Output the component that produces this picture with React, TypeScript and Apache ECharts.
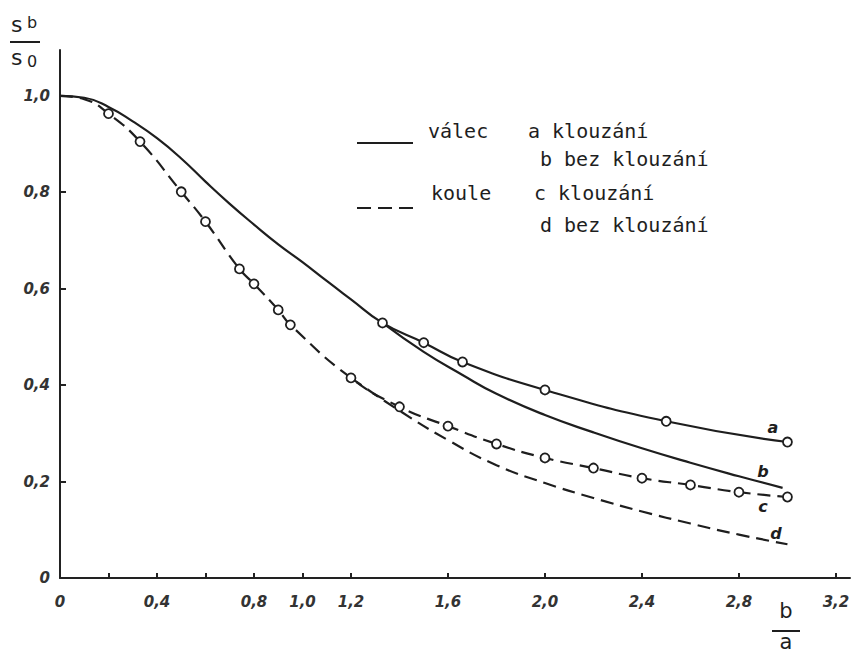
import React, { useEffect, useRef } from "react";
import * as echarts from "echarts";

// Axis ticks / labels
const xTickValues = [0.2, 0.4, 0.6, 0.8, 1.0, 1.2, 1.6, 2.0, 2.4, 2.8, 3.2];
const xLabelValues = [0, 0.4, 0.8, 1.0, 1.2, 1.6, 2.0, 2.4, 2.8, 3.2];
const yTickValues = [0.2, 0.4, 0.6, 0.8, 1.0];
const yLabelValues = [0, 0.2, 0.4, 0.6, 0.8, 1.0];

// válec (cylinder) – common part of curves a and b
const valecX = [0, 0.1, 0.2, 0.3, 0.4, 0.5, 0.6, 0.7, 0.8, 0.9, 1.0, 1.1, 1.2, 1.33];
const valecY = [1.0, 0.996, 0.977, 0.947, 0.912, 0.87, 0.822, 0.776, 0.733, 0.692, 0.655, 0.616, 0.578, 0.529];
// a – válec, klouzání (measured points)
const aX = [1.33, 1.5, 1.66, 2.0, 2.5, 3.0];
const aY = [0.529, 0.488, 0.448, 0.39, 0.325, 0.282];
// b – válec, bez klouzání
const bX = [1.33, 1.5, 1.66, 1.8, 2.0, 2.2, 2.4, 2.6, 2.8, 2.98];
const bY = [0.529, 0.469, 0.421, 0.382, 0.338, 0.302, 0.269, 0.239, 0.211, 0.187];
// koule (sphere) – start common to c and d
const kouleX = [0, 0.1];
const kouleY = [1.0, 0.993];
// c – koule, klouzání (measured points)
const cX = [0.2, 0.33, 0.5, 0.6, 0.74, 0.8, 0.9, 0.95, 1.2, 1.4, 1.6, 1.8, 2.0, 2.2, 2.4, 2.6, 2.8, 3.0];
const cY = [0.963, 0.905, 0.801, 0.739, 0.641, 0.61, 0.556, 0.525, 0.415, 0.355, 0.315, 0.278, 0.249, 0.228, 0.207, 0.193, 0.178, 0.168];
// d – koule, bez klouzání
const dX = [1.2, 1.4, 1.6, 1.8, 2.0, 2.2, 2.4, 2.6, 2.8, 3.0];
const dY = [0.415, 0.347, 0.286, 0.234, 0.197, 0.166, 0.138, 0.113, 0.09, 0.07];

const zip = (xs: number[], ys: number[]) => xs.map((x, i) => [x, ys[i]]);
const fmt = (v: number) => (v === 0 ? "0" : v.toFixed(1).replace(".", ","));

const INK = "#1e1e1e";
const MONO = "'DejaVu Sans Mono', monospace";
const SANS = "'DejaVu Sans', sans-serif";

export default function App() {
  const ref = useRef<HTMLDivElement>(null);

  useEffect(() => {
    document.body.style.margin = "0";
    if (!ref.current) return;
    const chart = echarts.init(ref.current, null, { renderer: "svg" });

    const line = { color: INK, width: 2.2 };
    const dashed = { color: INK, width: 2.2, type: [13, 7] as number[] };
    const marker = { color: "#ffffff", borderColor: INK, borderWidth: 1.8, opacity: 1 };

    const axisLabelStyle = {
      fontStyle: "italic" as const,
      fontWeight: "bold" as const,
      fontSize: 15,
      fontFamily: SANS,
      color: "#333",
      formatter: (v: number) => fmt(v),
    };

    const txt = (text: string, x: number, y: number, size: number, family: string, extra: any = {}) => ({
      type: "text",
      x,
      y,
      style: {
        text,
        fill: INK,
        fontSize: size,
        fontFamily: family,
        textAlign: "left",
        textVerticalAlign: "middle",
        ...extra,
      },
      z: 100,
    });

    const curve = (name: string, data: number[][], style: any) => ({
      name,
      type: "line",
      data,
      smooth: 0.5,
      symbol: "none",
      lineStyle: style,
      z: 2,
    });

    chart.setOption({
      animation: false,
      backgroundColor: "#ffffff",
      grid: { left: 60, right: 1, top: 50, bottom: 77, containLabel: false, outerBoundsMode: "none" },
      xAxis: {
        type: "value",
        min: 0,
        max: 3.258,
        splitLine: { show: false },
        axisLine: { show: true, onZero: false, lineStyle: { color: "#222", width: 2 } },
        axisTick: { show: true, inside: true, length: 5, customValues: xTickValues, lineStyle: { color: "#222", width: 2 } },
        axisLabel: { ...axisLabelStyle, customValues: xLabelValues, margin: 16 },
      },
      yAxis: {
        type: "value",
        min: 0,
        max: 1.095,
        splitLine: { show: false },
        axisLine: { show: true, onZero: false, lineStyle: { color: "#222", width: 2 } },
        axisTick: { show: true, inside: true, length: 6, customValues: yTickValues, lineStyle: { color: "#222", width: 2 } },
        axisLabel: { ...axisLabelStyle, customValues: yLabelValues, margin: 10 },
      },
      series: [
        curve("a", zip(valecX.concat(aX.slice(1)), valecY.concat(aY.slice(1))), line),
        curve("b", zip(bX, bY), line),
        curve("c", zip(kouleX.concat(cX), kouleY.concat(cY)), dashed),
        curve("d", zip(dX, dY), dashed),
        {
          name: "a body",
          type: "scatter",
          data: zip(aX, aY),
          symbol: "circle",
          symbolSize: 9,
          itemStyle: marker,
          z: 5,
        },
        {
          name: "c body",
          type: "scatter",
          data: zip(cX, cY),
          symbol: "circle",
          symbolSize: 9,
          itemStyle: marker,
          z: 5,
        },
      ],
      graphic: [
        // y-axis title s_b / s_0
        txt("s", 11, 24, 22, SANS),
        txt("b", 27, 22, 16, SANS),
        { type: "line", shape: { x1: 10, y1: 42, x2: 40, y2: 42 }, style: { stroke: INK, lineWidth: 2 } },
        txt("s", 11, 57, 22, SANS),
        txt("0", 27, 61, 16, SANS),
        // x-axis title b / a
        txt("b", 786, 611, 21, SANS, { textAlign: "center" }),
        { type: "line", shape: { x1: 772, y1: 631, x2: 800, y2: 631 }, style: { stroke: INK, lineWidth: 2 } },
        txt("a", 786, 642, 21, SANS, { textAlign: "center" }),
        // legend
        { type: "line", shape: { x1: 357, y1: 143, x2: 413, y2: 143 }, style: { stroke: INK, lineWidth: 2 } },
        { type: "line", shape: { x1: 357, y1: 208, x2: 413, y2: 208 }, style: { stroke: INK, lineWidth: 2, lineDash: [14, 7] } },
        txt("válec", 428, 131, 20, MONO),
        txt("a klouzání", 528, 131, 20, MONO),
        txt("b bez klouzání", 540, 159, 20, MONO),
        txt("koule", 431, 193, 20, MONO),
        txt("c klouzání", 534, 193, 20, MONO),
        txt("d bez klouzání", 540, 225, 20, MONO),
        // curve letters
        txt("a", 773, 427, 16, SANS, { textAlign: "center", fontStyle: "italic", fontWeight: "bold" }),
        txt("b", 763, 471, 16, SANS, { textAlign: "center", fontStyle: "italic", fontWeight: "bold" }),
        txt("c", 763, 506, 16, SANS, { textAlign: "center", fontStyle: "italic", fontWeight: "bold" }),
        txt("d", 776, 533, 16, SANS, { textAlign: "center", fontStyle: "italic", fontWeight: "bold" }),
      ],
    });

    return () => chart.dispose();
  }, []);

  return <div ref={ref} style={{ width: 851, height: 655 }} />;
}
